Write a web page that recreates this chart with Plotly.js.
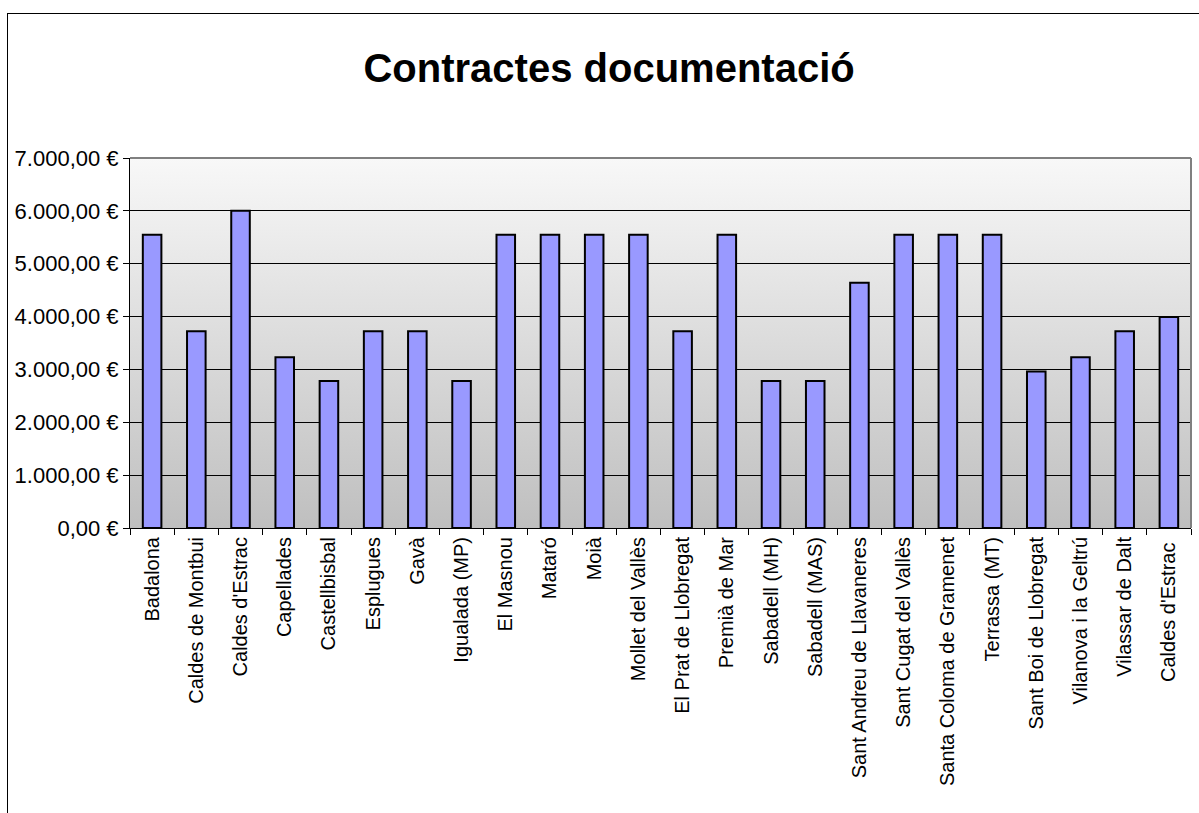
<!DOCTYPE html>
<html>
<head>
<meta charset="utf-8">
<script src="https://cdn.plot.ly/plotly-3.0.1.min.js"></script>
<style>
  html, body { margin: 0; padding: 0; background: #ffffff; overflow: hidden; }
  #frame { position: absolute; left: 7px; top: 13px; width: 1400px; height: 1000px; border: 1px solid #000; box-sizing: border-box; }
  #bg { position: absolute; left: 130px; top: 158px; width: 1061px; height: 370px;
        background: linear-gradient(to bottom, #f8f8f8 0%, #bfbfbf 100%); }
  #chart { position: absolute; left: 0; top: 0; width: 1199px; height: 813px; }
</style>
</head>
<body>
<div id="frame"></div>
<div id="bg"></div>
<div id="chart"></div>
<script>
const categories = [
  "Badalona", "Caldes de Montbui", "Caldes d'Estrac", "Capellades", "Castellbisbal",
  "Esplugues", "Gavà", "Igualada (MP)", "El Masnou", "Mataró", "Moià",
  "Mollet del Vallès", "El Prat de Llobregat", "Premià de Mar", "Sabadell (MH)",
  "Sabadell (MAS)", "Sant Andreu de Llavaneres", "Sant Cugat del Vallès",
  "Santa Coloma de Gramenet", "Terrassa (MT)", "Sant Boi de Llobregat",
  "Vilanova i la Geltrú", "Vilassar de Dalt", "Caldes d'Estrac "
];
const values = [
  5550, 3720, 6000, 3230, 2780,
  3720, 3720, 2780, 5550, 5550, 5550,
  5550, 3720, 5550, 2780,
  2780, 4640, 5550,
  5550, 5550, 2960,
  3230, 3720, 3990
];
const yTickVals = [0, 1000, 2000, 3000, 4000, 5000, 6000, 7000];
const yTickText = ["0,00 €", "1.000,00 €", "2.000,00 €", "3.000,00 €", "4.000,00 €", "5.000,00 €", "6.000,00 €", "7.000,00 €"];
const titleText = "Contractes documentació";

const font = "Arial, 'Liberation Sans', sans-serif";

const trace = {
  type: "bar",
  x: categories,
  y: values,
  marker: { color: "#9999ff", line: { color: "#000000", width: 2 } },
  hoverinfo: "none"
};

const layout = {
  width: 1199,
  height: 813,
  margin: { l: 130, r: 8, t: 158, b: 285, pad: 0 },
  paper_bgcolor: "rgba(0,0,0,0)",
  plot_bgcolor: "rgba(0,0,0,0)",
  showlegend: false,
  bargap: 0.58,
  title: {
    text: "<b>" + titleText + "</b>",
    font: { family: font, size: 40, color: "#000" },
    x: 0.508, xanchor: "center",
    y: 0.916, yanchor: "middle", yref: "container"
  },
  xaxis: {
    type: "category",
    tickson: "boundaries",
    ticks: "outside",
    ticklen: 6,
    tickcolor: "#000",
    tickwidth: 1,
    tickangle: -90,
    tickfont: { family: font, size: 20, color: "#000" },
    showline: true,
    linecolor: "#000",
    linewidth: 1,
    showgrid: false,
    zeroline: false,
    fixedrange: true
  },
  yaxis: {
    range: [0, 7000],
    tickvals: yTickVals,
    ticktext: yTickText,
    ticks: "outside",
    ticklen: 6,
    tickcolor: "#000",
    tickfont: { family: font, size: 22, color: "#000" },
    showline: true,
    linecolor: "#000",
    linewidth: 1,
    showgrid: true,
    gridcolor: "#000",
    gridwidth: 1,
    zeroline: false,
    fixedrange: true
  },
  shapes: [
    { type: "line", xref: "paper", yref: "paper", x0: 0, x1: 1, y0: 1, y1: 1, line: { color: "#808080", width: 2 }, layer: "above" },
    { type: "line", xref: "paper", yref: "paper", x0: 1, x1: 1, y0: 0, y1: 1, line: { color: "#808080", width: 2 }, layer: "above" }
  ]
};

Plotly.newPlot("chart", [trace], layout, { displayModeBar: false, staticPlot: true });
</script>
</body>
</html>
